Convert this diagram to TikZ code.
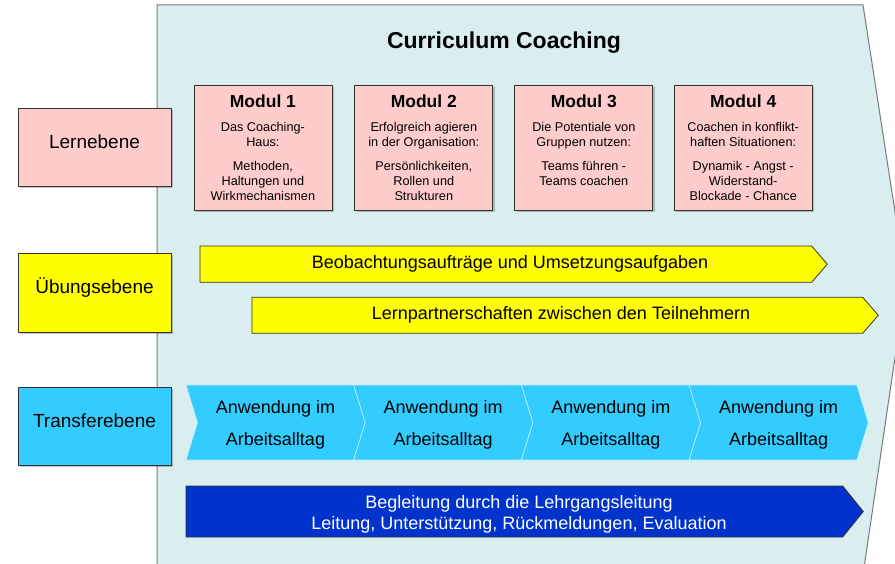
\documentclass[tikz,border=0pt]{standalone}
\usepackage{fontspec}
\setmainfont{Liberation Sans}
\usetikzlibrary{shadows}
\definecolor{bgfill}{HTML}{DAEEF0}
\definecolor{bgline}{HTML}{7A7A7A}
\definecolor{pinkfill}{HTML}{FFCCCC}
\definecolor{yel}{HTML}{FFFF00}
\definecolor{cyanfill}{HTML}{33CCFF}
\definecolor{cyanline}{HTML}{C4F0FF}
\definecolor{darkblue}{HTML}{0033CC}
\definecolor{boxline}{HTML}{333333}
\begin{document}
\begin{tikzpicture}[x=1pt,y=-1pt,
  shad/.style={drop shadow={shadow xshift=1.8pt,shadow yshift=-1.8pt,opacity=0.22,fill=black}},
  levelbox/.style={draw=boxline,line width=0.8pt,minimum width=153pt,minimum height=78pt,inner sep=0pt,shad},
  leveltext/.style={anchor=base,inner sep=0pt,font=\fontsize{19}{22}\selectfont},
  modbox/.style={draw=boxline,line width=0.8pt,fill=pinkfill,minimum width=138pt,minimum height=124.3pt,inner sep=0pt,shad},
  modtitle/.style={anchor=base,inner sep=0pt,font=\fontsize{17.5}{20}\selectfont\bfseries},
  modtext/.style={anchor=north,inner sep=0pt,align=center,font=\fontsize{12.7}{15}\selectfont},
  yarrow/.style={draw=boxline,line width=0.8pt,fill=yel},
  arrtext/.style={anchor=base,inner sep=0pt,font=\fontsize{18}{21}\selectfont},
  chevron/.style={fill=cyanfill,draw=cyanline,line width=0.6pt},
  chevtext/.style={anchor=north,inner sep=0pt,align=center,font=\fontsize{18}{31.7}\selectfont},
  barrow/.style={draw=boxline,line width=0.8pt,fill=darkblue}
]
\useasboundingbox (0,0) rectangle (895,564);
\fill[white] (0,0) rectangle (895,564);
% background pentagon
\begin{scope}
\clip (0,0) rectangle (895,564);
\path[fill=bgfill,draw=bgline,line width=1pt] (157,5) -- (863,5) -- (906,283) -- (862.5,578) -- (157,578) -- cycle;
\end{scope}
% title
\node[anchor=base,inner sep=0pt,font=\fontsize{23}{26}\selectfont\bfseries] (title) at (504,49) {Curriculum Coaching};
% level boxes
\node[levelbox,fill=pinkfill] (lern) at (94.5,147) {};
\node[leveltext] (lernT) at (94.5,149) {Lernebene};
\node[levelbox,fill=yel,minimum height=79pt] (ueb) at (94.5,292.5) {};
\node[leveltext] (uebT) at (94.5,294) {Übungsebene};
\node[levelbox,fill=cyanfill] (trans) at (94.5,426) {};
\node[leveltext] (transT) at (94.5,427.5) {Transferebene};
% modules
\node[modbox] (m1) at (262.9,147.85) {};
\node[modtitle] (m1h) at (262.9,107.7) {Modul 1};
\node[modtext] (m1t) at (262.9,121.6) {Das Coaching-\\Haus:\\[9.7pt]Methoden,\\Haltungen und\\Wirkmechanismen};
\node[modbox] (m2) at (423.8,147.85) {};
\node[modtitle] (m2h) at (423.8,107.7) {Modul 2};
\node[modtext] (m2t) at (423.8,121.6) {Erfolgreich agieren\\in der Organisation:\\[9.7pt]Persönlichkeiten,\\Rollen und\\Strukturen};
\node[modbox] (m3) at (583.8,147.85) {};
\node[modtitle] (m3h) at (583.8,107.7) {Modul 3};
\node[modtext] (m3t) at (583.8,121.6) {Die Potentiale von\\Gruppen nutzen:\\[9.7pt]Teams führen -\\Teams coachen};
\node[modbox] (m4) at (743.2,147.85) {};
\node[modtitle] (m4h) at (743.2,107.7) {Modul 4};
\node[modtext] (m4t) at (743.2,121.6) {Coachen in konflikt-\\haften Situationen:\\[9.7pt]Dynamik - Angst -\\Widerstand-\\Blockade - Chance};
% yellow arrows
\path[yarrow] (200,246) -- (811.7,246) -- (827.3,264.2) -- (811.7,282.3) -- (200,282.3) -- cycle;
\node[arrtext] (beob) at (510,268.3) {Beobachtungsaufträge und Umsetzungsaufgaben};
\path[yarrow] (252,297.3) -- (862.7,297.3) -- (878.3,315.3) -- (862.7,333.3) -- (252,333.3) -- cycle;
\node[arrtext] (lernp) at (561,319.3) {Lernpartnerschaften zwischen den Teilnehmern};
% chevrons
\foreach \i in {1,2,3,4}{
  \pgfmathsetmacro{\xa}{186+167.7*(\i-1)}
  \pgfmathsetmacro{\xb}{\xa+167.7}
  \path[chevron] (\xa,385) -- (\xb,385) -- (\xb+11.5,422.7) -- (\xb,460) -- (\xa,460) -- (\xa+11.5,422.7) -- cycle;
  \node[chevtext] (anw\i) at (\xa+89.5,400.4) {Anwendung im\\Arbeitsalltag};
}
% blue arrow
\path[barrow] (186,486) -- (842.7,486) -- (863.3,511.5) -- (842.7,537) -- (186,537) -- cycle;
\node[anchor=north,inner sep=0pt,align=center,text=white,font=\fontsize{18}{21}\selectfont] (begl) at (519,494.8) {Begleitung durch die Lehrgangsleitung\\Leitung, Unterstützung, Rückmeldungen, Evaluation};
\end{tikzpicture}
\end{document}
